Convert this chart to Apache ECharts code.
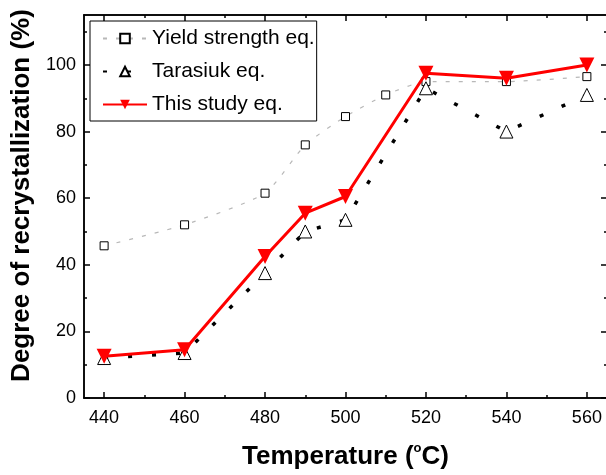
<!DOCTYPE html>
<html>
<head>
<meta charset="utf-8">
<script src="https://cdn.jsdelivr.net/npm/echarts@6/dist/echarts.min.js"></script>
<style>
  html, body { margin: 0; padding: 0; background: #fff; }
  #chart { width: 606px; height: 475px; }
</style>
</head>
<body>
<div id="chart"></div>
<script>
// temperatures (°C)
const yieldTemps = [440, 460, 480, 490, 500, 510, 520, 540, 560]
const yieldValues = [45.7, 52, 61.5, 76, 84.5, 91, 95, 95, 96.5]

const tempsB = [440, 460, 480, 490, 500, 520, 540, 560]
const tarasiukValues = [12, 13.5, 37.5, 50, 53.5, 93, 80, 91]
const studyValues = [12.5, 14.5, 42.5, 55.5, 60.5, 97.5, 96, 100]

const xMajor = [440, 460, 480, 500, 520, 540, 560]
const xMinor = [450, 470, 490, 510, 530, 550]
const yMajor = [0, 20, 40, 60, 80, 100]
const yMinor = [10, 30, 50, 70, 90, 110]

const pair = (xs, ys) => xs.map((x, i) => [x, ys[i]])

const font = 'Arial, "Liberation Sans", sans-serif'
const X_MIN = 435
const X_MAX = 565
const Y_MIN = 0
const Y_MAX = 115

// 刻度轴（内向刻度，上下左右都有）
function xAx(pos, ticks, len, labels) {
  return {
    type: 'value', position: pos, min: X_MIN, max: X_MAX,
    axisLine: { show: true, onZero: false, lineStyle: { color: '#000', width: 1.5 } },
    axisTick: { show: true, inside: true, length: len, customValues: ticks, lineStyle: { color: '#000', width: 1.5 } },
    axisLabel: labels
      ? { show: true, customValues: ticks, color: '#000', fontSize: 18, fontFamily: font, margin: 11 }
      : { show: false },
    splitLine: { show: false }
  }
}
function yAx(pos, ticks, len, labels) {
  return {
    type: 'value', position: pos, min: Y_MIN, max: Y_MAX,
    axisLine: { show: true, onZero: false, lineStyle: { color: '#000', width: 1.5 } },
    axisTick: { show: true, inside: true, length: len, customValues: ticks, lineStyle: { color: '#000', width: 1.5 } },
    axisLabel: labels
      ? { show: true, customValues: ticks, color: '#000', fontSize: 18, fontFamily: font, margin: 8 }
      : { show: false },
    splitLine: { show: false }
  }
}

const chart = echarts.init(document.getElementById('chart'))

const xMain = xAx('bottom', xMajor, 6, true)
xMain.name = 'Temperature ({sup|o}C)'
xMain.nameLocation = 'middle'
xMain.nameGap = 44
xMain.nameTextStyle = {
  color: '#000', fontSize: 26, fontWeight: 'bold', fontFamily: font,
  rich: { sup: { fontSize: 13, fontWeight: 'bold', fontFamily: font, color: '#000', padding: [0, 0, 17, 0] } }
}

const yMain = yAx('left', yMajor, 6, true)
yMain.name = 'Degree of recrystallization (%)'
yMain.nameLocation = 'middle'
yMain.nameGap = 45
yMain.nameRotate = 90
yMain.nameTextStyle = { color: '#000', fontSize: 26, fontWeight: 'bold', fontFamily: font, padding: [0, 0, 0, 22] }

const option = {
  animation: false,
  backgroundColor: '#fff',
  grid: { left: 84, right: -1, top: 15, bottom: 77, containLabel: false, outerBoundsMode: 'none' },
  legend: {
    orient: 'vertical',
    left: 90, top: 21,
    itemWidth: 44, itemHeight: 12, itemGap: 12,
    padding: [7, 2, 6, 12],
    borderColor: '#000', borderWidth: 1,
    textStyle: { color: '#000', fontSize: 21, fontFamily: font },
    data: ['Yield strength eq.', 'Tarasiuk eq.', 'This study eq.']
  },
  xAxis: [
    xMain,
    xAx('bottom', xMinor, 3, false),
    xAx('top', xMajor, 6, false),
    xAx('top', xMinor, 3, false)
  ],
  yAxis: [
    yMain,
    yAx('left', yMinor, 3, false),
    yAx('right', yMajor, 6, false),
    yAx('right', yMinor, 3, false)
  ],
  series: [
    {
      name: 'Yield strength eq.',
      type: 'line',
      data: pair(yieldTemps, yieldValues),
      smooth: 0.2,
      symbol: 'rect', symbolSize: 8,
      lineStyle: { color: '#b8b8b8', width: 1.2, type: [4, 9] },
      itemStyle: { color: '#fff', borderColor: '#000', borderWidth: 1 },
      z: 2
    },
    {
      name: 'Tarasiuk eq.',
      type: 'line',
      data: pair(tempsB, tarasiukValues),
      symbol: 'triangle', symbolSize: 13,
      lineStyle: { color: '#000', width: 3.5, type: [4, 20] },
      itemStyle: { color: '#fff', borderColor: '#000', borderWidth: 1 },
      z: 3
    },
    {
      name: 'This study eq.',
      type: 'line',
      data: pair(tempsB, studyValues),
      symbol: 'triangle', symbolRotate: 180, symbolSize: 15,
      lineStyle: { color: '#ff0000', width: 3 },
      itemStyle: { color: '#ff0000' },
      z: 4
    }
  ]
}

chart.setOption(option)
</script>
</body>
</html>
